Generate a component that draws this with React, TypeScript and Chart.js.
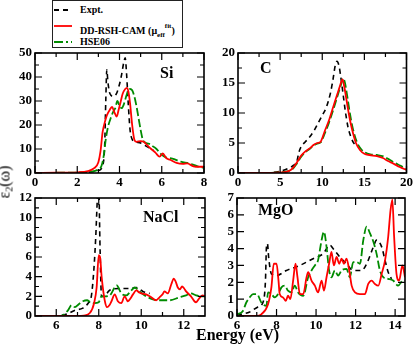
import React, { useEffect, useRef } from "react";
import { Chart, registerables } from "chart.js";
Chart.register(...registerables);

const SERIF = '"Liberation Serif", "Times New Roman", serif';
const BLACK = "#000000";
const RED = "#ff0000";
const GREEN = "#008b00";

// ---------- Si ----------
const siExptX = [0, 1, 2, 2.6, 3.0, 3.2, 3.3, 3.35, 3.4, 3.45, 3.55, 3.7, 3.85, 4.0, 4.1, 4.2, 4.27, 4.33, 4.42, 4.5, 4.6, 4.75, 5.0, 5.3, 5.6];
const siExptY = [0, 0, 0.1, 0.4, 1, 3, 12, 30, 43, 38, 33, 32, 33, 37, 41, 46, 48, 42, 28, 18, 14, 13, 12.5, 11, 9.5];
const siRshX = [0, 1, 2, 2.5, 2.8, 3.0, 3.1, 3.2, 3.3, 3.4, 3.55, 3.65, 3.75, 3.87, 3.95, 4.05, 4.15, 4.27, 4.35, 4.42, 4.5, 4.6, 4.7, 4.8, 5.0, 5.15, 5.3, 5.5, 5.7, 5.9, 6.05, 6.2, 6.4, 6.7, 7.0, 7.2, 7.5, 7.8, 8.0];
const siRshY = [0, 0.1, 0.3, 0.8, 2, 4.5, 9, 17, 21, 24, 26.5, 27.5, 25.5, 23.5, 26, 29.5, 33, 35, 35.5, 34, 29, 20, 14, 13, 13.3, 13, 11.7, 10, 8.5, 6.8, 8.2, 6.3, 5.5, 4.2, 3.8, 4, 2.8, 2.6, 2.6];
const siHseX = [0, 1, 2, 2.6, 3.0, 3.15, 3.25, 3.35, 3.45, 3.55, 3.7, 3.8, 3.9, 4.0, 4.1, 4.2, 4.3, 4.4, 4.5, 4.6, 4.7, 4.8, 4.9, 5.0, 5.1, 5.25, 5.45, 5.6, 5.75, 5.95, 6.2, 6.5, 6.9, 7.3, 7.7, 8.0];
const siHseY = [0, 0.1, 0.2, 0.5, 1.5, 3, 7, 14, 19, 22, 25.5, 27, 30, 28, 27, 28.5, 31.5, 34, 35, 34.5, 32, 28, 23, 18, 14, 12.5, 12, 11, 10, 8, 6.5, 6, 4.7, 4, 2.8, 2.2];
const siXTicks = [0, 2, 4, 6, 8];
const siXMinor = [1, 3, 5, 7];
const siYTicks = [0, 10, 20, 30, 40, 50];
const siYMinor = [5, 15, 25, 35, 45];

// ---------- C ----------
const cExptX = [0, 3, 5, 6, 6.6, 7.0, 7.2, 7.5, 8.0, 8.5, 9.0, 9.5, 10.0, 10.5, 11.0, 11.3, 11.55, 11.75, 12.0, 12.2, 12.46, 12.75, 13.05, 13.35, 13.65, 14.0];
const cExptY = [0, 0, 0.3, 0.8, 1.3, 2.0, 3.3, 4.4, 5.2, 6.0, 7.0, 8.3, 9.6, 11.0, 13.5, 15.8, 18, 18.6, 17.8, 16, 13.3, 10.2, 7.7, 6.2, 5.2, 4.6];
const cRshX = [0, 3, 5, 6, 6.5, 7, 7.5, 8, 8.5, 9.0, 9.4, 9.8, 10.3, 10.8, 11.3, 11.8, 12.1, 12.4, 12.6, 12.9, 13.2, 13.5, 14.0, 14.5, 15.0, 15.6, 16.5, 17.2, 17.8, 18.4, 19.2, 20];
const cRshY = [0, 0, 0.1, 0.3, 0.8, 1.8, 2.9, 3.6, 4.1, 4.7, 5.0, 5.2, 7.0, 8.8, 11.0, 13.2, 14.5, 15.6, 14.5, 12.0, 9.5, 7.5, 5.0, 3.8, 3.2, 3.0, 2.8, 2.5, 2.0, 1.6, 1.0, 0.5];
const cHseX = [0, 3, 5, 6, 6.5, 7, 7.5, 8, 8.5, 9.0, 9.4, 9.8, 10.3, 10.8, 11.3, 11.8, 12.2, 12.5, 12.7, 13.0, 13.3, 13.6, 14.1, 14.6, 15.1, 15.7, 16.5, 17.4, 18.0, 18.6, 19.3, 20];
const cHseY = [0, 0, 0.1, 0.3, 0.7, 1.6, 2.7, 3.5, 4.0, 4.6, 4.9, 5.1, 6.6, 8.4, 10.5, 12.8, 14.6, 15.8, 15.0, 12.5, 9.8, 7.6, 5.2, 4.0, 3.4, 3.1, 3.0, 2.7, 2.2, 1.7, 1.2, 0.6];
const cXTicks = [0, 5, 10, 15, 20];
const cXMinor = [2.5, 7.5, 12.5, 17.5];
const cYTicks = [0, 5, 10, 15, 20];
const cYMinor = [2.5, 7.5, 12.5, 17.5];

// ---------- NaCl ----------
const naclExptX = [5, 6, 6.5, 6.9, 7.25, 7.5, 7.65, 7.77, 7.86, 7.94, 8.0, 8.06, 8.13, 8.25, 8.5, 9.0, 9.45, 9.77, 10.08, 10.4];
const naclExptY = [0, 0, 0.2, 0.6, 0.8, 1.3, 2.0, 4.7, 8.1, 12.1, 13, 7, 2.0, 2.0, 2.6, 2.8, 2.8, 2.9, 2.5, 2.3];
const naclRshX = [5, 7, 7.3, 7.58, 7.78, 7.9, 8.0, 8.06, 8.14, 8.28, 8.39, 8.5, 8.6, 8.75, 8.9, 9.06, 9.22, 9.37, 9.5, 9.61, 9.77, 9.9, 10.0, 10.23, 10.47, 10.7, 10.86, 11.0, 11.09, 11.25, 11.41, 11.53, 11.62, 11.72, 11.82, 11.92, 12.02, 12.11, 12.34, 12.5, 12.58, 12.73, 12.89, 13];
const naclRshY = [0, 0, 0.05, 0.3, 1.3, 2.9, 6.2, 6.0, 3.9, 1.6, 0.9, 1.1, 1.5, 2.2, 1.5, 1.3, 2.0, 1.5, 1.8, 2.2, 2.6, 2.4, 2.3, 2.2, 1.9, 1.6, 1.9, 2.2, 2.5, 2.3, 3.2, 3.8, 3.5, 2.9, 2.7, 3.0, 2.8, 2.5, 2.0, 1.5, 1.4, 1.8, 2.1, 2.0];
const naclHseX = [5, 6.2, 6.33, 6.56, 6.72, 6.88, 7.06, 7.25, 7.45, 7.6, 7.8, 8.0, 8.13, 8.3, 8.52, 8.75, 8.85, 9.06, 9.3, 9.53, 9.69, 9.92, 10.23, 10.55, 10.86, 11.33, 11.8, 12.11, 12.34, 12.58, 12.81, 13];
const naclHseY = [0, 0, 0.1, 0.6, 1.1, 0.9, 1.2, 1.5, 1.6, 1.4, 1.3, 1.4, 2.0, 2.0, 2.1, 2.9, 3.1, 2.3, 2.1, 2.6, 2.9, 2.5, 2.0, 1.7, 1.6, 1.6, 1.9, 2.1, 2.3, 2.1, 2.0, 2.0];
const naclXTicks = [6, 8, 10, 12];
const naclXMinor = [7, 9, 11];
const naclYTicks = [0, 2, 4, 6, 8, 10, 12];
const naclYMinor = [1, 3, 5, 7, 9, 11];

// ---------- MgO ----------
const mgoExptX = [6, 6.64, 7.06, 7.32, 7.44, 7.49, 7.54, 7.6, 7.74, 8.0, 8.5, 9.18, 9.85, 10.36, 10.7, 10.86, 11.2, 11.54, 11.88, 12.3, 12.56, 12.9, 13.06, 13.32, 13.49, 13.65, 13.82];
const mgoExptY = [0.04, 0.24, 0.54, 0.83, 2.1, 4.1, 4.3, 3.5, 2.5, 2.4, 2.7, 3.0, 3.4, 3.7, 4.2, 4.0, 3.5, 3.1, 2.7, 2.7, 3.1, 4.1, 4.5, 4.1, 3.3, 2.6, 2.2];
const mgoRshX = [6, 7, 7.23, 7.57, 7.74, 7.86, 8.0, 8.1, 8.16, 8.33, 8.47, 8.58, 8.7, 8.84, 8.96, 9.06, 9.18, 9.35, 9.52, 9.6, 9.77, 9.94, 10.1, 10.28, 10.4, 10.53, 10.66, 10.78, 10.9, 11.04, 11.17, 11.29, 11.41, 11.54, 11.68, 11.8, 11.97, 12.22, 12.47, 12.64, 12.81, 12.98, 13.15, 13.32, 13.49, 13.65, 13.77, 13.86, 13.95, 14.07, 14.2, 14.37, 14.5];
const mgoRshY = [0, 0, 0.1, 0.7, 1.7, 3.1, 3.1, 2.1, 1.3, 1.1, 0.9, 1.2, 1.0, 2.1, 3.1, 2.3, 1.3, 1.3, 2.3, 2.6, 2.1, 1.8, 1.4, 2.1, 1.5, 2.3, 3.1, 3.8, 3.0, 3.5, 3.1, 3.4, 3.1, 3.4, 2.7, 1.8, 1.4, 1.3, 1.3, 1.9, 2.1, 1.9, 1.8, 2.5, 3.3, 4.7, 6.3, 6.9, 4.7, 2.5, 2.1, 3.0, 2.3];
const mgoHseX = [6, 6.3, 6.47, 6.64, 6.81, 7.01, 7.23, 7.49, 7.57, 7.74, 7.91, 8.08, 8.25, 8.42, 8.58, 8.76, 8.92, 9.09, 9.35, 9.6, 9.77, 9.94, 10.1, 10.28, 10.4, 10.53, 10.66, 10.78, 10.95, 11.12, 11.29, 11.54, 11.71, 11.88, 12.05, 12.22, 12.39, 12.56, 12.73, 12.9, 13.06, 13.23, 13.4, 13.65, 13.9, 14.15, 14.4, 14.5];
const mgoHseY = [0.1, 0.3, 0.8, 1.1, 1.3, 1.3, 0.8, 0.6, 1.4, 1.3, 1.1, 1.3, 1.7, 1.8, 1.5, 1.4, 1.8, 1.4, 1.2, 2.3, 2.7, 3.0, 3.3, 4.5, 5.0, 4.1, 2.7, 2.3, 2.7, 2.4, 2.7, 2.8, 2.3, 3.2, 3.2, 3.1, 4.5, 5.3, 4.9, 4.4, 3.7, 2.7, 2.3, 2.2, 2.1, 1.8, 2.1, 2.1];
const mgoXTicks = [6, 8, 10, 12, 14];
const mgoXMinor = [7, 9, 11, 13];
const mgoYTicks = [0, 1, 2, 3, 4, 5, 6, 7];
const mgoYMinor: number[] = [];

const pts = (xs: number[], ys: number[]) => xs.map((x, i) => ({ x, y: ys[i] }));

const framePlugin = {
  id: "frameTicks",
  afterDraw(chart: any, _args: any, opts: any) {
    const { ctx, chartArea: a, scales } = chart;
    const sx = scales.x;
    const sy = scales.y;
    ctx.save();
    ctx.strokeStyle = "#000";
    ctx.lineWidth = 1.2;
    ctx.beginPath();
    const tx = (vals: number[], len: number) =>
      vals.forEach((v) => {
        const p = sx.getPixelForValue(v);
        ctx.moveTo(p, a.bottom);
        ctx.lineTo(p, a.bottom - len);
        ctx.moveTo(p, a.top);
        ctx.lineTo(p, a.top + len);
      });
    const ty = (vals: number[], len: number) =>
      vals.forEach((v) => {
        const p = sy.getPixelForValue(v);
        ctx.moveTo(a.left, p);
        ctx.lineTo(a.left + len, p);
        ctx.moveTo(a.right, p);
        ctx.lineTo(a.right - len, p);
      });
    tx(opts.xMajor || [], 7);
    tx(opts.xMinor || [], 4);
    ty(opts.yMajor || [], 7);
    ty(opts.yMinor || [], 4);
    ctx.stroke();
    ctx.lineWidth = 1.6;
    ctx.strokeRect(a.left, a.top, a.right - a.left, a.bottom - a.top);
    ctx.restore();
  },
};

type PanelSpec = {
  left: number; top: number; width: number; height: number;
  area: { l: number; t: number; r: number; b: number };
  xMin: number; xMax: number; yMin: number; yMax: number;
  xTicks: number[]; xMinor: number[]; yTicks: number[]; yMinor: number[];
  expt: { x: number; y: number }[];
  rsh: { x: number; y: number }[];
  hse: { x: number; y: number }[];
};

const tickFont = { family: SERIF, size: 13, weight: "bold" as const };

function Panel({ p }: { p: PanelSpec }) {
  const ref = useRef<HTMLCanvasElement | null>(null);
  useEffect(() => {
    if (!ref.current) return;
    const yW = p.area.l - p.left;
    const xH = p.top + p.height - p.area.b;
    const padTop = p.area.t - p.top;
    const padRight = p.left + p.width - p.area.r;
    const common = { pointRadius: 0, borderWidth: 1.8, fill: false, cubicInterpolationMode: "monotone" as const };
    const chart = new Chart(ref.current, {
      type: "line",
      data: {
        datasets: [
          { label: "DD-RSH-CAM", data: p.rsh, borderColor: RED, ...common },
          { label: "HSE06", data: p.hse, borderColor: GREEN, borderDash: [8, 3], ...common },
          { label: "Expt.", data: p.expt, borderColor: BLACK, borderDash: [5, 4], ...common, borderWidth: 1.6 },
        ],
      },
      options: {
        responsive: false,
        animation: false,
        devicePixelRatio: 1,
        layout: { padding: { left: 0, top: padTop, right: padRight, bottom: 0 } },
        plugins: {
          legend: { display: false },
          tooltip: { enabled: false },
          // @ts-ignore
          frameTicks: { xMajor: p.xTicks, xMinor: p.xMinor, yMajor: p.yTicks, yMinor: p.yMinor },
        },
        scales: {
          x: {
            type: "linear",
            min: p.xMin,
            max: p.xMax,
            grid: { display: false, drawTicks: false },
            border: { display: false },
            ticks: { font: tickFont, color: "#000", padding: 2, maxRotation: 0, autoSkip: false },
            afterBuildTicks: (s: any) => { s.ticks = p.xTicks.map((v) => ({ value: v })); },
            afterFit: (s: any) => { s.height = xH; },
          },
          y: {
            type: "linear",
            min: p.yMin,
            max: p.yMax,
            grid: { display: false, drawTicks: false },
            border: { display: false },
            ticks: { font: tickFont, color: "#000", padding: 3, autoSkip: false },
            afterBuildTicks: (s: any) => { s.ticks = p.yTicks.map((v) => ({ value: v })); },
            afterFit: (s: any) => { s.width = yW; },
          },
        },
      },
      plugins: [framePlugin],
    } as any);
    return () => chart.destroy();
  }, [p]);
  return (
    <canvas
      ref={ref}
      width={p.width}
      height={p.height}
      style={{ position: "absolute", left: p.left, top: p.top, width: p.width, height: p.height }}
    />
  );
}

const panels: PanelSpec[] = [
  {
    left: 0, top: 40, width: 215, height: 150, area: { l: 35, t: 53, r: 204, b: 173 },
    xMin: 0, xMax: 8, yMin: 0, yMax: 50,
    xTicks: siXTicks, xMinor: siXMinor, yTicks: siYTicks, yMinor: siYMinor,
    expt: pts(siExptX, siExptY), rsh: pts(siRshX, siRshY), hse: pts(siHseX, siHseY),
  },
  {
    left: 205, top: 40, width: 210, height: 150, area: { l: 238, t: 53, r: 407, b: 173 },
    xMin: 0, xMax: 20, yMin: 0, yMax: 20,
    xTicks: cXTicks, xMinor: cXMinor, yTicks: cYTicks, yMinor: cYMinor,
    expt: pts(cExptX, cExptY), rsh: pts(cRshX, cRshY), hse: pts(cHseX, cHseY),
  },
  {
    left: 0, top: 185, width: 215, height: 145, area: { l: 35, t: 198, r: 205, b: 316 },
    xMin: 5, xMax: 13, yMin: 0, yMax: 12,
    xTicks: naclXTicks, xMinor: naclXMinor, yTicks: naclYTicks, yMinor: naclYMinor,
    expt: pts(naclExptX, naclExptY), rsh: pts(naclRshX, naclRshY), hse: pts(naclHseX, naclHseY),
  },
  {
    left: 205, top: 185, width: 210, height: 145, area: { l: 237, t: 198, r: 405, b: 316 },
    xMin: 6, xMax: 14.5, yMin: 0, yMax: 7,
    xTicks: mgoXTicks, xMinor: mgoXMinor, yTicks: mgoYTicks, yMinor: mgoYMinor,
    expt: pts(mgoExptX, mgoExptY), rsh: pts(mgoRshX, mgoRshY), hse: pts(mgoHseX, mgoHseY),
  },
];

const panelLabels = [
  { text: "Si", left: 160, top: 65 },
  { text: "C", left: 260, top: 60 },
  { text: "NaCl", left: 143, top: 209 },
  { text: "MgO", left: 258, top: 202 },
];

function LegendLine({ color, dash }: { color: string; dash?: string }) {
  return (
    <svg width={18} height={4} style={{ position: "absolute", left: 1, top: -2 }}>
      <line x1={0} y1={2} x2={18} y2={2} stroke={color} strokeWidth={1.8} strokeDasharray={dash} />
    </svg>
  );
}

export default function App() {
  const legendText: React.CSSProperties = {
    position: "absolute", left: 27, fontFamily: SERIF, fontWeight: "bold", fontSize: 10,
    lineHeight: "12px", whiteSpace: "nowrap", color: "#000",
  };
  return (
    <div style={{ position: "fixed", left: 0, top: 0, width: 415, height: 345, background: "#fff", overflow: "hidden" }}>
      {panels.map((p, i) => (
        <Panel key={i} p={p} />
      ))}
      {panelLabels.map((l) => (
        <div
          key={l.text}
          style={{ position: "absolute", left: l.left, top: l.top, fontFamily: SERIF, fontWeight: "bold", fontSize: 16, lineHeight: "16px", color: "#000" }}
        >
          {l.text}
        </div>
      ))}
      <div
        style={{ position: "absolute", left: 52, top: 0, width: 131, height: 48, border: "1.5px solid #222", boxSizing: "border-box", background: "#fff" }}
      >
        <div style={{ position: "absolute", left: 0, top: 9 }}>
          <LegendLine color={BLACK} dash="5 4" />
        </div>
        <div style={{ ...legendText, top: 3 }}>Expt.</div>
        <div style={{ position: "absolute", left: 0, top: 25 }}>
          <LegendLine color={RED} />
        </div>
        <div style={{ ...legendText, top: 19 }}>
          DD-RSH-CAM (μ
          <sub style={{ fontSize: 7, verticalAlign: "-3px" }}>eff</sub>
          <sup style={{ fontSize: 7, verticalAlign: "6px" }}>fit</sup>)
        </div>
        <div style={{ position: "absolute", left: 0, top: 41 }}>
          <LegendLine color={GREEN} dash="9 3 2 3" />
        </div>
        <div style={{ ...legendText, top: 35 }}>HSE06</div>
      </div>
      <div
        style={{
          position: "absolute", left: 7, top: 182, transform: "translate(-50%, -50%) rotate(-90deg)",
          fontFamily: SERIF, fontSize: 16, whiteSpace: "nowrap", color: "#000", lineHeight: "16px",
        }}
      >
        ε<sub style={{ fontSize: 10, verticalAlign: "-3px" }}>2</sub>(ω)
      </div>
      <div
        style={{ position: "absolute", left: 196, top: 327, fontFamily: SERIF, fontWeight: "bold", fontSize: 16, lineHeight: "16px", whiteSpace: "nowrap", color: "#000" }}
      >
        Energy (eV)
      </div>
    </div>
  );
}
